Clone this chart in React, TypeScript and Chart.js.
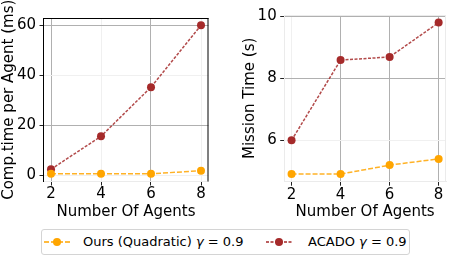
import React, { useEffect, useRef } from "react";
import { Chart, registerables } from "chart.js";
Chart.register(...registerables);

const agents = [2, 4, 6, 8];
const oursComp = [0.6, 0.6, 0.6, 1.8];
const acadoComp = [2.4, 15.6, 35.3, 60.1];
const oursMission = [4.91, 4.91, 5.2, 5.4];
const acadoMission = [6.0, 8.59, 8.69, 9.8];
const xTicks = [2, 4, 6, 8];
const compTicks = [0, 20, 40, 60];
const missionTicks = [6, 8, 10];
const seriesNames = ["Ours (Quadratic)", "ACADO"];
const gammaText = "= 0.9";
const xTitle = "Number Of Agents";
const compTitle = "Comp.time per Agent (ms)";
const missionTitle = "Mission Time (s)";

const ORANGE = "#FFA500";
const BROWN = "#A52A2A";
const GRID_DARK = "#b0b0b0";
const GRID_FAINT = "#f0f0f0";
const FRAME_FAINT = "#ebebeb";
const FONT = "'DejaVu Sans', sans-serif";

type Spec = {
  ours: number[];
  acado: number[];
  yTicks: number[];
  yMin: number;
  yMax: number;
  yTitle: string;
  yTitlePad: number;
  xDark: number[];
  yDark: number[];
  yWidth: number;
  xHeight: number;
  padTop: number;
  padRight: number;
  darkSpines: boolean;
};

const spinePlugin = {
  id: "spines",
  afterDatasetsDraw(chart: any, _args: any, opts: any) {
    const { ctx, chartArea: a } = chart;
    ctx.save();
    ctx.lineWidth = 1;
    ctx.strokeStyle = opts.color;
    ctx.beginPath();
    ctx.moveTo(a.left, a.top + 0.5);
    ctx.lineTo(a.right, a.top + 0.5);
    ctx.moveTo(a.right - 0.5, a.top);
    ctx.lineTo(a.right - 0.5, a.bottom);
    ctx.stroke();
    ctx.restore();
  },
};

function makeConfig(s: Spec): any {
  const pts = (ys: number[]) => agents.map((x, i) => ({ x, y: ys[i] }));
  return {
    type: "line",
    data: {
      datasets: [
        {
          label: seriesNames[0],
          data: pts(s.ours),
          borderColor: "rgba(255,165,0,0.85)",
          backgroundColor: ORANGE,
          pointBackgroundColor: ORANGE,
          pointBorderWidth: 0,
          pointRadius: 4,
          borderWidth: 1.5,
          borderDash: [5, 2],
        },
        {
          label: seriesNames[1],
          data: pts(s.acado),
          borderColor: "rgba(165,42,42,0.85)",
          backgroundColor: BROWN,
          pointBackgroundColor: BROWN,
          pointBorderWidth: 0,
          pointRadius: 4,
          borderWidth: 1.5,
          borderDash: [3, 1.5],
        },
      ],
    },
    options: {
      animation: false,
      responsive: true,
      maintainAspectRatio: false,
      layout: { padding: { top: s.padTop, right: s.padRight, left: 0, bottom: 0 } },
      plugins: {
        legend: { display: false },
        tooltip: { enabled: false },
        spines: { color: s.darkSpines ? "#000" : FRAME_FAINT },
      },
      scales: {
        x: {
          type: "linear",
          min: 1.7,
          max: 8.3,
          afterBuildTicks: (sc: any) => {
            sc.ticks = xTicks.map((v) => ({ value: v }));
          },
          afterFit: (sc: any) => {
            sc.height = s.xHeight;
          },
          ticks: {
            color: "#000",
            font: { family: FONT, size: 15 },
            padding: 0,
            maxRotation: 0,
          },
          grid: {
            color: (c: any) => (s.xDark.includes(c.tick?.value) ? GRID_DARK : GRID_FAINT),
            tickColor: "#222",
            tickLength: 4,
            lineWidth: 1,
          },
          border: { color: FRAME_FAINT, width: 1 },
          title: {
            display: true,
            text: xTitle,
            color: "#000",
            font: { family: FONT, size: 15 },
            padding: { top: 0, bottom: 4 },
          },
        },
        y: {
          type: "linear",
          min: s.yMin,
          max: s.yMax,
          afterBuildTicks: (sc: any) => {
            sc.ticks = s.yTicks.map((v) => ({ value: v }));
          },
          afterFit: (sc: any) => {
            sc.width = s.yWidth;
          },
          ticks: {
            color: "#000",
            font: { family: FONT, size: 15 },
            padding: 3.5,
          },
          grid: {
            color: (c: any) => (s.yDark.includes(c.tick?.value) ? GRID_DARK : GRID_FAINT),
            tickColor: "#222",
            tickLength: 4,
            lineWidth: 1,
          },
          border: { color: s.darkSpines ? "#000" : FRAME_FAINT, width: 1 },
          title: {
            display: true,
            text: s.yTitle,
            color: "#000",
            font: { family: FONT, size: 15 },
            padding: { top: s.yTitlePad, bottom: 0 },
          },
        },
      },
    },
    plugins: [spinePlugin],
  };
}

function Panel({ spec, left }: { spec: Spec; left: number }) {
  const ref = useRef<HTMLCanvasElement | null>(null);
  useEffect(() => {
    if (!ref.current) return;
    const chart = new Chart(ref.current, makeConfig(spec));
    return () => chart.destroy();
  }, []);
  return (
    <div style={{ position: "absolute", left, top: 0, width: 225, height: 225 }}>
      <canvas ref={ref} />
    </div>
  );
}

function LegendMarker({ color, dash, x }: { color: string; dash: string; x: number }) {
  return (
    <svg
      width={26}
      height={12}
      style={{ position: "absolute", left: x, top: 236 }}
    >
      <line x1={0} y1={6} x2={26} y2={6} stroke={color} strokeWidth={1.5} strokeDasharray={dash} />
      <circle cx={13} cy={6} r={4} fill={color} />
    </svg>
  );
}

const legendText: React.CSSProperties = {
  position: "absolute",
  top: 233,
  height: 18,
  lineHeight: "18px",
  fontFamily: FONT,
  fontSize: 13,
  color: "#000",
  whiteSpace: "nowrap",
};

export default function App() {
  const left: Spec = {
    ours: oursComp,
    acado: acadoComp,
    yTicks: compTicks,
    yMin: -2.5,
    yMax: 63.0,
    yTitle: compTitle,
    yTitlePad: 0,
    xDark: [2, 6],
    yDark: [20, 60],
    yWidth: 43.5,
    xHeight: 43.5,
    padTop: 18,
    padRight: 16.5,
    darkSpines: true,
  };
  const right: Spec = {
    ours: oursMission,
    acado: acadoMission,
    yTicks: missionTicks,
    yMin: 4.665,
    yMax: 10.045,
    yTitle: missionTitle,
    yTitlePad: 16,
    xDark: [4, 6, 8],
    yDark: [8, 10],
    yWidth: 59.2,
    xHeight: 43.3,
    padTop: 15,
    padRight: 1.5,
    darkSpines: false,
  };
  return (
    <div
      style={{
        position: "fixed",
        left: 0,
        top: 0,
        width: 450,
        height: 258,
        background: "#fff",
        overflow: "hidden",
      }}
    >
      <Panel spec={left} left={0} />
      <Panel spec={right} left={225} />
      <div
        style={{
          position: "absolute",
          left: 40.5,
          top: 229,
          width: 369,
          height: 26,
          border: "1px solid #d4d4d4",
          borderRadius: 3,
          boxSizing: "border-box",
          background: "#fff",
        }}
      />
      <LegendMarker color={ORANGE} dash="5 2" x={44} />
      <span style={{ ...legendText, left: 83 }}>
        {seriesNames[0]} <i>γ</i> {gammaText}
      </span>
      <LegendMarker color={BROWN} dash="3 1.5" x={266} />
      <span style={{ ...legendText, left: 308 }}>
        {seriesNames[1]} <i>γ</i> {gammaText}
      </span>
    </div>
  );
}
